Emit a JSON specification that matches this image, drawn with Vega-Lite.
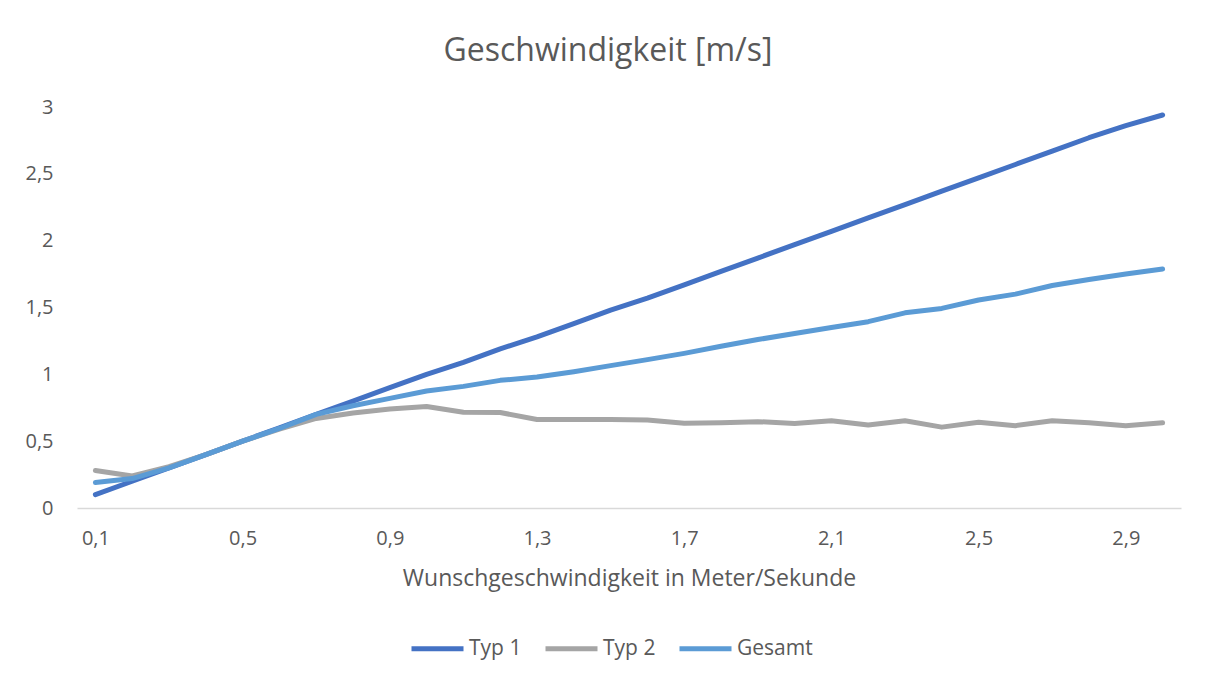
{
  "$schema": "https://vega.github.io/schema/vega-lite/v6.json",
  "width": 1104,
  "height": 401,
  "autosize": "none",
  "padding": {"left": 77, "top": 107, "right": 25, "bottom": 174},
  "background": "#ffffff",
  "title": {
    "text": "Geschwindigkeit [m/s]",
    "anchor": "middle",
    "dx": -21,
    "offset": 29,
    "font": "Open Sans",
    "fontSize": 32,
    "fontWeight": "normal",
    "color": "#595959"
  },
  "data": {
    "values": [
      {"wunsch": 0.1, "typ": "Typ 1", "v": 0.1},
      {"wunsch": 0.2, "typ": "Typ 1", "v": 0.2},
      {"wunsch": 0.3, "typ": "Typ 1", "v": 0.3},
      {"wunsch": 0.4, "typ": "Typ 1", "v": 0.4},
      {"wunsch": 0.5, "typ": "Typ 1", "v": 0.5},
      {"wunsch": 0.6, "typ": "Typ 1", "v": 0.6},
      {"wunsch": 0.7, "typ": "Typ 1", "v": 0.7},
      {"wunsch": 0.8, "typ": "Typ 1", "v": 0.8},
      {"wunsch": 0.9, "typ": "Typ 1", "v": 0.9},
      {"wunsch": 1.0, "typ": "Typ 1", "v": 1.0},
      {"wunsch": 1.1, "typ": "Typ 1", "v": 1.09},
      {"wunsch": 1.2, "typ": "Typ 1", "v": 1.19},
      {"wunsch": 1.3, "typ": "Typ 1", "v": 1.28},
      {"wunsch": 1.4, "typ": "Typ 1", "v": 1.38},
      {"wunsch": 1.5, "typ": "Typ 1", "v": 1.48},
      {"wunsch": 1.6, "typ": "Typ 1", "v": 1.57},
      {"wunsch": 1.7, "typ": "Typ 1", "v": 1.67},
      {"wunsch": 1.8, "typ": "Typ 1", "v": 1.77},
      {"wunsch": 1.9, "typ": "Typ 1", "v": 1.87},
      {"wunsch": 2.0, "typ": "Typ 1", "v": 1.97},
      {"wunsch": 2.1, "typ": "Typ 1", "v": 2.07},
      {"wunsch": 2.2, "typ": "Typ 1", "v": 2.17},
      {"wunsch": 2.3, "typ": "Typ 1", "v": 2.27},
      {"wunsch": 2.4, "typ": "Typ 1", "v": 2.37},
      {"wunsch": 2.5, "typ": "Typ 1", "v": 2.47},
      {"wunsch": 2.6, "typ": "Typ 1", "v": 2.57},
      {"wunsch": 2.7, "typ": "Typ 1", "v": 2.67},
      {"wunsch": 2.8, "typ": "Typ 1", "v": 2.77},
      {"wunsch": 2.9, "typ": "Typ 1", "v": 2.86},
      {"wunsch": 3.0, "typ": "Typ 1", "v": 2.94},
      {"wunsch": 0.1, "typ": "Typ 2", "v": 0.28},
      {"wunsch": 0.2, "typ": "Typ 2", "v": 0.24},
      {"wunsch": 0.3, "typ": "Typ 2", "v": 0.31},
      {"wunsch": 0.4, "typ": "Typ 2", "v": 0.4},
      {"wunsch": 0.5, "typ": "Typ 2", "v": 0.5},
      {"wunsch": 0.6, "typ": "Typ 2", "v": 0.59},
      {"wunsch": 0.7, "typ": "Typ 2", "v": 0.67},
      {"wunsch": 0.8, "typ": "Typ 2", "v": 0.71},
      {"wunsch": 0.9, "typ": "Typ 2", "v": 0.74},
      {"wunsch": 1.0, "typ": "Typ 2", "v": 0.76},
      {"wunsch": 1.1, "typ": "Typ 2", "v": 0.716},
      {"wunsch": 1.2, "typ": "Typ 2", "v": 0.714},
      {"wunsch": 1.3, "typ": "Typ 2", "v": 0.662},
      {"wunsch": 1.4, "typ": "Typ 2", "v": 0.663},
      {"wunsch": 1.5, "typ": "Typ 2", "v": 0.662},
      {"wunsch": 1.6, "typ": "Typ 2", "v": 0.658},
      {"wunsch": 1.7, "typ": "Typ 2", "v": 0.634},
      {"wunsch": 1.8, "typ": "Typ 2", "v": 0.638},
      {"wunsch": 1.9, "typ": "Typ 2", "v": 0.646},
      {"wunsch": 2.0, "typ": "Typ 2", "v": 0.632},
      {"wunsch": 2.1, "typ": "Typ 2", "v": 0.652},
      {"wunsch": 2.2, "typ": "Typ 2", "v": 0.621},
      {"wunsch": 2.3, "typ": "Typ 2", "v": 0.653},
      {"wunsch": 2.4, "typ": "Typ 2", "v": 0.605},
      {"wunsch": 2.5, "typ": "Typ 2", "v": 0.642},
      {"wunsch": 2.6, "typ": "Typ 2", "v": 0.616},
      {"wunsch": 2.7, "typ": "Typ 2", "v": 0.653},
      {"wunsch": 2.8, "typ": "Typ 2", "v": 0.638},
      {"wunsch": 2.9, "typ": "Typ 2", "v": 0.616},
      {"wunsch": 3.0, "typ": "Typ 2", "v": 0.638},
      {"wunsch": 0.1, "typ": "Gesamt", "v": 0.19},
      {"wunsch": 0.2, "typ": "Gesamt", "v": 0.22},
      {"wunsch": 0.3, "typ": "Gesamt", "v": 0.3},
      {"wunsch": 0.4, "typ": "Gesamt", "v": 0.4},
      {"wunsch": 0.5, "typ": "Gesamt", "v": 0.5},
      {"wunsch": 0.6, "typ": "Gesamt", "v": 0.595},
      {"wunsch": 0.7, "typ": "Gesamt", "v": 0.7},
      {"wunsch": 0.8, "typ": "Gesamt", "v": 0.765},
      {"wunsch": 0.9, "typ": "Gesamt", "v": 0.82},
      {"wunsch": 1.0, "typ": "Gesamt", "v": 0.875},
      {"wunsch": 1.1, "typ": "Gesamt", "v": 0.91},
      {"wunsch": 1.2, "typ": "Gesamt", "v": 0.955},
      {"wunsch": 1.3, "typ": "Gesamt", "v": 0.98},
      {"wunsch": 1.4, "typ": "Gesamt", "v": 1.02},
      {"wunsch": 1.5, "typ": "Gesamt", "v": 1.065},
      {"wunsch": 1.6, "typ": "Gesamt", "v": 1.11},
      {"wunsch": 1.7, "typ": "Gesamt", "v": 1.157},
      {"wunsch": 1.8, "typ": "Gesamt", "v": 1.21},
      {"wunsch": 1.9, "typ": "Gesamt", "v": 1.26},
      {"wunsch": 2.0, "typ": "Gesamt", "v": 1.305},
      {"wunsch": 2.1, "typ": "Gesamt", "v": 1.35},
      {"wunsch": 2.2, "typ": "Gesamt", "v": 1.394},
      {"wunsch": 2.3, "typ": "Gesamt", "v": 1.46},
      {"wunsch": 2.4, "typ": "Gesamt", "v": 1.493},
      {"wunsch": 2.5, "typ": "Gesamt", "v": 1.556},
      {"wunsch": 2.6, "typ": "Gesamt", "v": 1.6},
      {"wunsch": 2.7, "typ": "Gesamt", "v": 1.665},
      {"wunsch": 2.8, "typ": "Gesamt", "v": 1.71},
      {"wunsch": 2.9, "typ": "Gesamt", "v": 1.75},
      {"wunsch": 3.0, "typ": "Gesamt", "v": 1.788}
    ]
  },
  "mark": {"type": "line", "strokeWidth": 5, "strokeCap": "round", "strokeJoin": "round"},
  "encoding": {
    "x": {
      "field": "wunsch",
      "type": "ordinal",
      "sort": "ascending",
      "scale": {"type": "point", "padding": 0.5},
      "axis": {
        "title": "Wunschgeschwindigkeit in Meter/Sekunde",
        "values": [0.1, 0.5, 0.9, 1.3, 1.7, 2.1, 2.5, 2.9],
        "labelExpr": "replace(format(datum.value, '.1f'), '.', ',')",
        "labelAngle": 0,
        "labelFont": "Open Sans",
        "labelFontSize": 20,
        "labelColor": "#595959",
        "labelPadding": 20,
        "ticks": false,
        "domainColor": "#d9d9d9",
        "domainWidth": 1.5,
        "grid": false,
        "titleFont": "Open Sans",
        "titleFontSize": 23,
        "titleFontWeight": "normal",
        "titleColor": "#595959",
        "titlePadding": 19
      }
    },
    "y": {
      "field": "v",
      "type": "quantitative",
      "scale": {"domain": [0, 3], "nice": false},
      "axis": {
        "title": null,
        "values": [0, 0.5, 1, 1.5, 2, 2.5, 3],
        "labelExpr": "replace(format(datum.value, '~g'), '.', ',')",
        "labelFont": "Open Sans",
        "labelFontSize": 20,
        "labelColor": "#595959",
        "labelPadding": 24,
        "ticks": false,
        "domain": false,
        "grid": false
      }
    },
    "color": {
      "field": "typ",
      "type": "nominal",
      "sort": ["Typ 1", "Typ 2", "Gesamt"],
      "scale": {"domain": ["Typ 1", "Typ 2", "Gesamt"], "range": ["#4472C4", "#A5A5A5", "#5B9BD5"]},
      "legend": {
        "title": null,
        "orient": "none",
        "direction": "horizontal",
        "legendX": 332,
        "legendY": 513,
        "padding": 0,
        "symbolType": "stroke",
        "symbolSize": 2704,
        "symbolStrokeWidth": 5,
        "labelFont": "Open Sans",
        "labelFontSize": 21,
        "labelColor": "#595959",
        "labelOffset": 3,
        "columnPadding": 13
      }
    }
  },
  "config": {
    "view": {"stroke": null}
  }
}
